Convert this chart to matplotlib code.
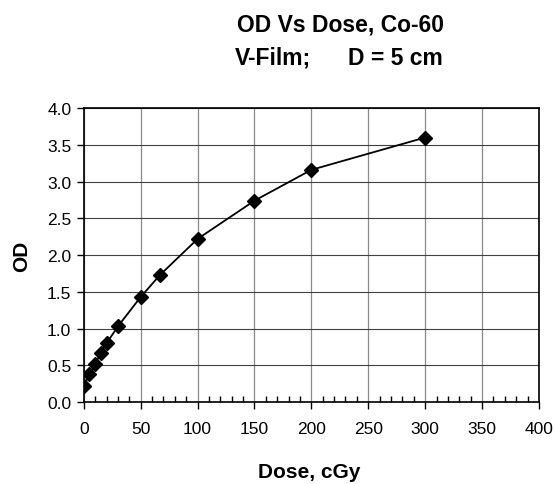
import matplotlib
matplotlib.use('Agg')
import matplotlib.pyplot as plt
from matplotlib.ticker import MultipleLocator, FormatStrFormatter

plt.rcParams['font.family'] = ['Liberation Sans', 'DejaVu Sans']

# dose (cGy) and optical density
dose = [0, 5, 10, 15, 20, 30, 50, 67, 100, 150, 200, 300]
od = [0.22, 0.38, 0.52, 0.67, 0.80, 1.03, 1.43, 1.73, 2.22, 2.74, 3.16, 3.60]

fig = plt.figure(figsize=(5.55, 4.85), dpi=100)
ax = fig.add_axes([0.151, 0.169, 0.820, 0.606])

ax.plot(dose, od, color='black', lw=1.3, marker='D', ms=7, mfc='black', mec='black', zorder=3)

ax.set_xlim(0, 400)
ax.set_ylim(0, 4.0)
ax.xaxis.set_major_locator(MultipleLocator(50))
ax.xaxis.set_minor_locator(MultipleLocator(10))
ax.yaxis.set_major_locator(MultipleLocator(0.5))
ax.yaxis.set_major_formatter(FormatStrFormatter('%.1f'))

ax.grid(True, axis='x', which='major', color='#8a8a8a', lw=0.9)
ax.grid(True, axis='y', which='major', color='#404040', lw=0.8)
ax.set_axisbelow(True)

for s in ax.spines.values():
    s.set_color('black')
    s.set_linewidth(1.2)

ax.tick_params(axis='both', which='major', direction='out', length=5, width=1,
               labelsize=12.5, colors='black')
ax.tick_params(axis='x', which='major', pad=9)
ax.tick_params(axis='y', which='major', pad=4)
ax.tick_params(axis='x', which='minor', direction='in', length=4, width=1)

ax.set_xlabel('Dose, cGy', fontsize=15, fontweight='bold', va='center')
ax.xaxis.set_label_coords(0.496, -0.235)
ax.set_ylabel('OD', fontsize=15, fontweight='bold', va='center')
ax.yaxis.set_label_coords(-0.136, 0.5)

fig.text(0.614, 0.948, 'OD Vs Dose, Co-60', ha='center', va='center',
         fontsize=16.5, fontweight='bold')
fig.text(235 / 555, 0.880, 'V-Film;', ha='left', va='center',
         fontsize=16.5, fontweight='bold')
fig.text(443 / 555, 0.880, 'D = 5 cm', ha='right', va='center',
         fontsize=16.5, fontweight='bold')

fig.savefig('out.png', dpi=100)
